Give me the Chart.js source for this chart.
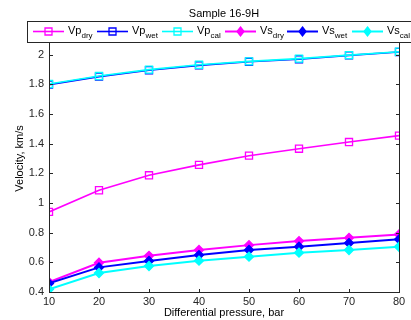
<!DOCTYPE html>
<html><head><meta charset="utf-8">
<script src="https://cdn.jsdelivr.net/npm/chart.js@4/dist/chart.umd.min.js"></script>
<style>html,body{margin:0;padding:0;background:#fff;}#wrap{width:411px;height:320px;}</style>
</head><body><div id="wrap"><canvas id="c" width="411" height="320"></canvas></div>
<script>
const pressure = [10, 20, 30, 40, 50, 60, 70, 80];
const vpDry = [0.94, 1.086, 1.187, 1.257, 1.319, 1.366, 1.411, 1.454];
const vpWet = [1.798, 1.852, 1.895, 1.928, 1.952, 1.969, 1.995, 2.018];
const vpCal = [1.802, 1.856, 1.899, 1.932, 1.955, 1.973, 1.997, 2.02];
const vsDry = [0.467, 0.597, 0.644, 0.683, 0.716, 0.743, 0.765, 0.788];
const vsWet = [0.458, 0.566, 0.609, 0.649, 0.683, 0.705, 0.73, 0.755];
const vsCal = [0.418, 0.528, 0.575, 0.611, 0.638, 0.665, 0.683, 0.705];
const yTicks = [0.4, 0.6, 0.8, 1, 1.2, 1.4, 1.6, 1.8, 2, 2.2];
const titleText = 'Sample 16-9H';
const xTitle = 'Differential pressure, bar';
const yTitle = 'Velocity, km/s';
const legendItems = [
  {main: 'Vp', sub: 'dry', color: '#ff00ff', style: 'rect'},
  {main: 'Vp', sub: 'wet', color: '#0000ff', style: 'rect'},
  {main: 'Vp', sub: 'cal', color: '#00ffff', style: 'rect'},
  {main: 'Vs', sub: 'dry', color: '#ff00ff', style: 'rectRot'},
  {main: 'Vs', sub: 'wet', color: '#0000ff', style: 'rectRot'},
  {main: 'Vs', sub: 'cal', color: '#00ffff', style: 'rectRot'}
];
const seriesValues = [vpDry, vpWet, vpCal, vsDry, vsWet, vsCal];
const FONT = '"Liberation Sans", Arial, sans-serif';

function mkDataset(i, order) {
  const it = legendItems[i];
  const isVp = it.style === 'rect';
  return {
    label: it.main + '_' + it.sub,
    data: pressure.map((p, k) => ({x: p, y: seriesValues[i][k]})),
    borderColor: it.color,
    backgroundColor: it.color,
    borderWidth: isVp ? 1.6 : 2,
    pointStyle: it.style,
    pointRadius: isVp ? 5 : 4.5,
    pointBorderWidth: 1.3,
    pointBackgroundColor: isVp ? 'rgba(255,255,255,0)' : it.color,
    pointBorderColor: it.color,
    tension: 0,
    order: order
  };
}

const boxPlugin = {
  id: 'boxPlugin',
  afterDraw(chart) {
    const ctx = chart.ctx;
    const a = chart.chartArea;
    const xs = chart.scales.x, ys = chart.scales.y;
    ctx.save();
    ctx.strokeStyle = '#262626';
    ctx.lineWidth = 1;
    const L = Math.round(a.left) + 0.5, R = Math.round(a.right) + 0.5;
    const T = Math.round(a.top) + 0.5, B = Math.round(a.bottom) + 0.5;
    ctx.strokeRect(L, T, R - L, B - T);
    ctx.beginPath();
    const tl = 3.5;
    yTicks.forEach(v => {
      const y = Math.round(ys.getPixelForValue(v)) + 0.5;
      ctx.moveTo(L, y); ctx.lineTo(L + tl, y);
      ctx.moveTo(R, y); ctx.lineTo(R - tl, y);
    });
    pressure.forEach(v => {
      const x = Math.round(xs.getPixelForValue(v)) + 0.5;
      ctx.moveTo(x, B); ctx.lineTo(x, B - tl);
      ctx.moveTo(x, T); ctx.lineTo(x, T + tl);
    });
    ctx.stroke();

    // title
    ctx.fillStyle = '#000';
    ctx.font = '11px ' + FONT;
    ctx.textAlign = 'center';
    ctx.textBaseline = 'alphabetic';
    ctx.fillText(titleText, (a.left + a.right) / 2, 17);

    // legend box
    const lx = 27.5, ly = 21.5, lw = 400, lh = 21;
    ctx.fillStyle = '#fff';
    ctx.fillRect(lx, ly, lw, lh);
    ctx.strokeStyle = '#262626';
    ctx.strokeRect(lx, ly, lw, lh);
    const starts = [33, 97, 162, 225, 287, 352];
    const lineY = 31.5;
    legendItems.forEach((it, i) => {
      const x0 = starts[i];
      ctx.strokeStyle = it.color;
      ctx.lineWidth = it.style === 'rect' ? 1.6 : 2;
      ctx.beginPath(); ctx.moveTo(x0, lineY); ctx.lineTo(x0 + 31, lineY); ctx.stroke();
      const cx = x0 + 15.5;
      ctx.lineWidth = 1.3;
      ctx.beginPath();
      if (it.style === 'rect') {
        ctx.rect(cx - 3.5, lineY - 3.5, 7, 7);
        ctx.stroke();
      } else {
        ctx.moveTo(cx, lineY - 4.5); ctx.lineTo(cx + 3.5, lineY);
        ctx.lineTo(cx, lineY + 4.5); ctx.lineTo(cx - 3.5, lineY); ctx.closePath();
        ctx.fillStyle = it.color; ctx.fill(); ctx.stroke();
      }
      ctx.fillStyle = '#000';
      ctx.textAlign = 'left';
      ctx.font = '11px ' + FONT;
      const tx = x0 + 35;
      ctx.fillText(it.main, tx, 34);
      const w = ctx.measureText(it.main).width;
      ctx.font = '8px ' + FONT;
      ctx.fillText(it.sub, tx + w, 37.5);
    });
    ctx.restore();
  }
};

new Chart(document.getElementById('c'), {
  type: 'line',
  data: {
    datasets: [mkDataset(0, 5), mkDataset(1, 4), mkDataset(2, 3), mkDataset(3, 2), mkDataset(4, 1), mkDataset(5, 0)]
  },
  options: {
    responsive: false,
    animation: false,
    devicePixelRatio: 1,
    layout: {padding: {top: 25, right: 12, left: 0, bottom: 0}},
    plugins: {legend: {display: false}, title: {display: false}, tooltip: {enabled: false}},
    scales: {
      x: {
        type: 'linear', min: 10, max: 80,
        grid: {display: false, drawTicks: false},
        border: {display: false},
        afterBuildTicks(s) { s.ticks = pressure.map(v => ({value: v})); },
        afterFit(s) { s.height = 28; },
        ticks: {color: '#262626', font: {size: 11, family: FONT}, padding: 3, maxRotation: 0, autoSkip: false,
          callback: v => String(v)},
        title: {display: true, text: xTitle, color: '#000', font: {size: 11, family: FONT}, padding: {top: 0, bottom: 0}}
      },
      y: {
        type: 'linear', min: 0.4, max: 2.2,
        grid: {display: false, drawTicks: false},
        border: {display: false},
        afterBuildTicks(s) { s.ticks = yTicks.map(v => ({value: v})); },
        afterFit(s) { s.width = 49; },
        ticks: {color: '#262626', font: {size: 11, family: FONT}, padding: 5, autoSkip: false,
          callback: v => (v >= 2.15 ? '' : String(Math.round(v * 10) / 10))},
        title: {display: true, text: yTitle, color: '#000', font: {size: 11, family: FONT}, padding: {top: 13, bottom: 0}}
      }
    }
  },
  plugins: [boxPlugin]
});
</script></body></html>
